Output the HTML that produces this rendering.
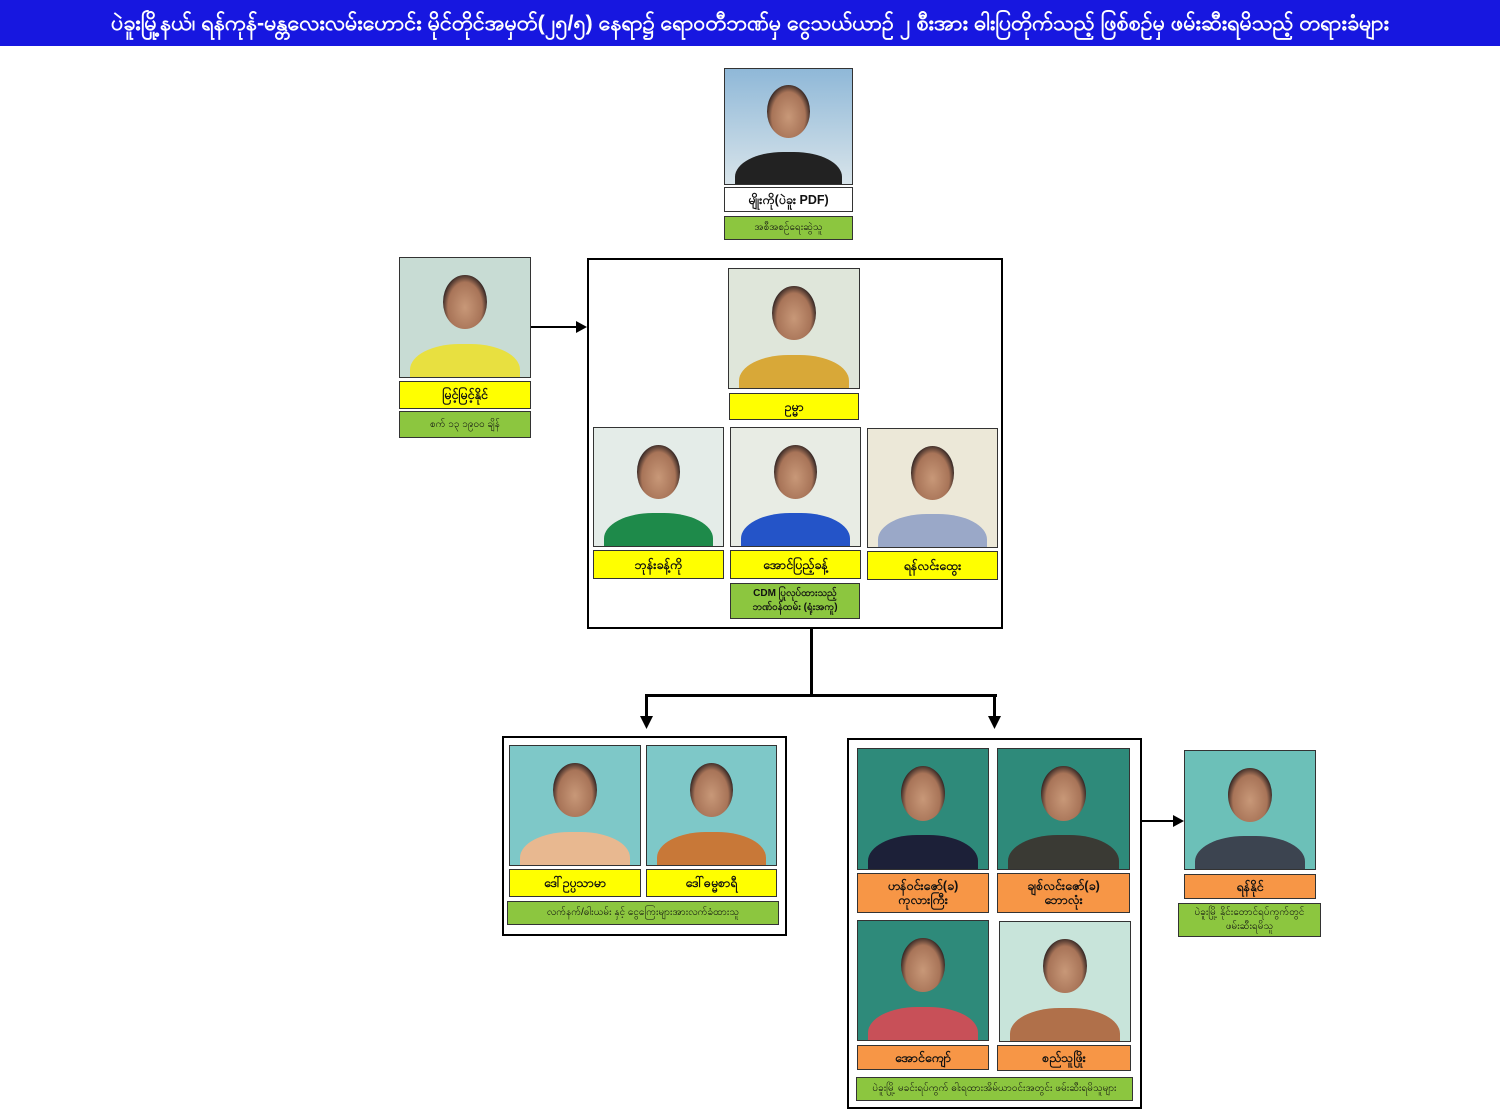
<!DOCTYPE html>
<html><head><meta charset="utf-8"><style>
*{margin:0;padding:0;box-sizing:border-box}
body{width:1500px;height:1110px;background:#fff;position:relative;overflow:hidden;font-family:"Liberation Sans","Noto Sans CJK SC",sans-serif}
.a{position:absolute}
.hdr{left:0;top:0;width:1500px;height:46px;background:#1717e0;color:#fff;font-size:21.5px;font-weight:bold;text-align:center;line-height:46px;white-space:nowrap;overflow:hidden}
.ph{position:absolute;border:1.5px solid #333;overflow:hidden}
.ph .hd{position:absolute;left:50%;top:14%;width:34%;height:46%;margin-left:-17%;border-radius:50%;background:radial-gradient(ellipse at 50% 60%,#c89878 0%,#a87458 55%,#2a2020 75%)}
.ph .bd{position:absolute;left:8%;right:8%;bottom:-20%;height:48%;border-radius:45% 45% 0 0}
.lb{position:absolute;border:1.5px solid #333;font-size:12.5px;font-weight:bold;text-align:center;display:flex;align-items:center;justify-content:center;line-height:14px;color:#111}
.y{background:#ffff00}.g{background:#8cc63f;font-weight:normal;font-size:10px}.o{background:#f79646}.w{background:#fff}
.box{position:absolute;border:2px solid #000}
.ln{position:absolute;background:#000}
</style></head><body>
<div class="a hdr">ပဲခူးမြို့နယ်၊ ရန်ကုန်-မန္တလေးလမ်းဟောင်း မိုင်တိုင်အမှတ်(၂၅/၅) နေရာ၌ ရောဝတီဘဏ်မှ ငွေသယ်ယာဉ် ၂ စီးအား ဓါးပြတိုက်သည့် ဖြစ်စဉ်မှ ဖမ်းဆီးရမိသည့် တရားခံများ</div>

<div class="ph" style="left:724px;top:68px;width:129px;height:117px;background:linear-gradient(#8fb8d8,#d8e4ea)"><div class="hd"></div><div class="bd" style="background:#222"></div></div>
<div class="lb w" style="left:724px;top:187px;width:129px;height:25px">မျိုးကို(ပဲခူး PDF)</div>
<div class="lb g" style="left:724px;top:216px;width:129px;height:24px">အစီအစဉ်ရေးဆွဲသူ</div>

<div class="ph" style="left:399px;top:257px;width:132px;height:121px;background:#c8dcd4"><div class="hd"></div><div class="bd" style="background:#e8e040"></div></div>
<div class="lb y" style="left:399px;top:381px;width:132px;height:28px">မြင့်မြင့်နိုင်</div>
<div class="lb g" style="left:399px;top:411px;width:132px;height:27px">စက် ၁၃ ၁၉၀၀ ချိန်</div>
<div class="ln" style="left:531px;top:326px;width:48px;height:2px"></div>
<svg class="a" style="left:576px;top:321px" width="12" height="12"><polygon points="0,0 11,6 0,12" fill="#000"/></svg>

<div class="box" style="left:587px;top:258px;width:416px;height:371px"></div>
<div class="ph" style="left:728px;top:268px;width:132px;height:121px;background:#dfe6da"><div class="hd"></div><div class="bd" style="background:#d8a838"></div></div>
<div class="lb y" style="left:729px;top:393px;width:130px;height:27px">ဥမ္မာ</div>
<div class="ph" style="left:593px;top:427px;width:131px;height:120px;background:#e4ece8"><div class="hd"></div><div class="bd" style="background:#1e8a4a"></div></div>
<div class="ph" style="left:730px;top:427px;width:131px;height:120px;background:#e8ece4"><div class="hd"></div><div class="bd" style="background:#2454c8"></div></div>
<div class="ph" style="left:867px;top:428px;width:131px;height:120px;background:#ece8d8"><div class="hd"></div><div class="bd" style="background:#9aa8c8"></div></div>
<div class="lb y" style="left:593px;top:550px;width:131px;height:29px">ဘုန်းခန့်ကို</div>
<div class="lb y" style="left:730px;top:550px;width:131px;height:29px">အောင်ပြည့်ခန့်</div>
<div class="lb y" style="left:867px;top:551px;width:131px;height:29px">ရန်လင်းထွေး</div>
<div class="lb g" style="left:730px;top:583px;width:130px;height:36px;font-weight:bold">CDM ပြုလုပ်ထားသည့်<br>ဘဏ်ဝန်ထမ်း (ရုံးအကူ)</div>

<div class="ln" style="left:810px;top:628px;width:3px;height:69px"></div>
<div class="ln" style="left:645px;top:694px;width:352px;height:3px"></div>
<div class="ln" style="left:645px;top:694px;width:3px;height:26px"></div>
<div class="ln" style="left:993px;top:694px;width:3px;height:26px"></div>
<svg class="a" style="left:640px;top:716px" width="13" height="13"><polygon points="0,0 13,0 6.5,13" fill="#000"/></svg>
<svg class="a" style="left:988px;top:716px" width="13" height="13"><polygon points="0,0 13,0 6.5,13" fill="#000"/></svg>

<div class="box" style="left:502px;top:736px;width:285px;height:200px"></div>
<div class="ph" style="left:509px;top:745px;width:132px;height:121px;background:#7ec8c8"><div class="hd"></div><div class="bd" style="background:#e8b890"></div></div>
<div class="ph" style="left:646px;top:745px;width:131px;height:121px;background:#7ec8c8"><div class="hd"></div><div class="bd" style="background:#c87838"></div></div>
<div class="lb y" style="left:509px;top:869px;width:132px;height:28px">ဒေါ်ဥပ္ပသာမာ</div>
<div class="lb y" style="left:646px;top:869px;width:131px;height:28px">ဒေါ်ဓမ္မစာရီ</div>
<div class="lb g" style="left:507px;top:901px;width:272px;height:24px">လက်နက်/ဓါးယမ်း နှင့် ငွေကြေးများအားလက်ခံထားသူ</div>

<div class="box" style="left:847px;top:738px;width:295px;height:371px"></div>
<div class="ph" style="left:857px;top:748px;width:132px;height:122px;background:#2e8a7a"><div class="hd"></div><div class="bd" style="background:#1c2038"></div></div>
<div class="ph" style="left:997px;top:748px;width:133px;height:122px;background:#2e8a7a"><div class="hd"></div><div class="bd" style="background:#3a3a34"></div></div>
<div class="lb o" style="left:857px;top:873px;width:132px;height:40px">ဟန်ဝင်းဇော်(ခ)<br>ကုလားကြီး</div>
<div class="lb o" style="left:997px;top:873px;width:133px;height:40px">ချစ်လင်းဇော်(ခ)<br>ဘောလုံး</div>
<div class="ph" style="left:857px;top:920px;width:132px;height:121px;background:#2e8a7a"><div class="hd"></div><div class="bd" style="background:#c85058"></div></div>
<div class="ph" style="left:999px;top:921px;width:132px;height:121px;background:#c8e4da"><div class="hd"></div><div class="bd" style="background:#b0704a"></div></div>
<div class="lb o" style="left:857px;top:1045px;width:132px;height:25px">အောင်ကျော်</div>
<div class="lb o" style="left:997px;top:1045px;width:134px;height:26px">စည်သူဖြိုး</div>
<div class="lb g" style="left:856px;top:1077px;width:277px;height:24px">ပဲခူးမြို့ မခင်းရပ်ကွက် ဓါးရထားအိမ်ယာဝင်းအတွင်း ဖမ်းဆီးရမိသူများ</div>

<div class="ln" style="left:1141px;top:820px;width:35px;height:2px"></div>
<svg class="a" style="left:1173px;top:815px" width="12" height="12"><polygon points="0,0 11,6 0,12" fill="#000"/></svg>

<div class="ph" style="left:1184px;top:750px;width:132px;height:120px;background:#6cc0b8"><div class="hd"></div><div class="bd" style="background:#3c4450"></div></div>
<div class="lb o" style="left:1184px;top:874px;width:132px;height:25px">ရန်နိုင်</div>
<div class="lb g" style="left:1178px;top:903px;width:143px;height:34px">ပဲခူးမြို့ နိုင်းတောင်ရပ်ကွက်တွင်<br>ဖမ်းဆီးရမိသူ</div>
</body></html>
